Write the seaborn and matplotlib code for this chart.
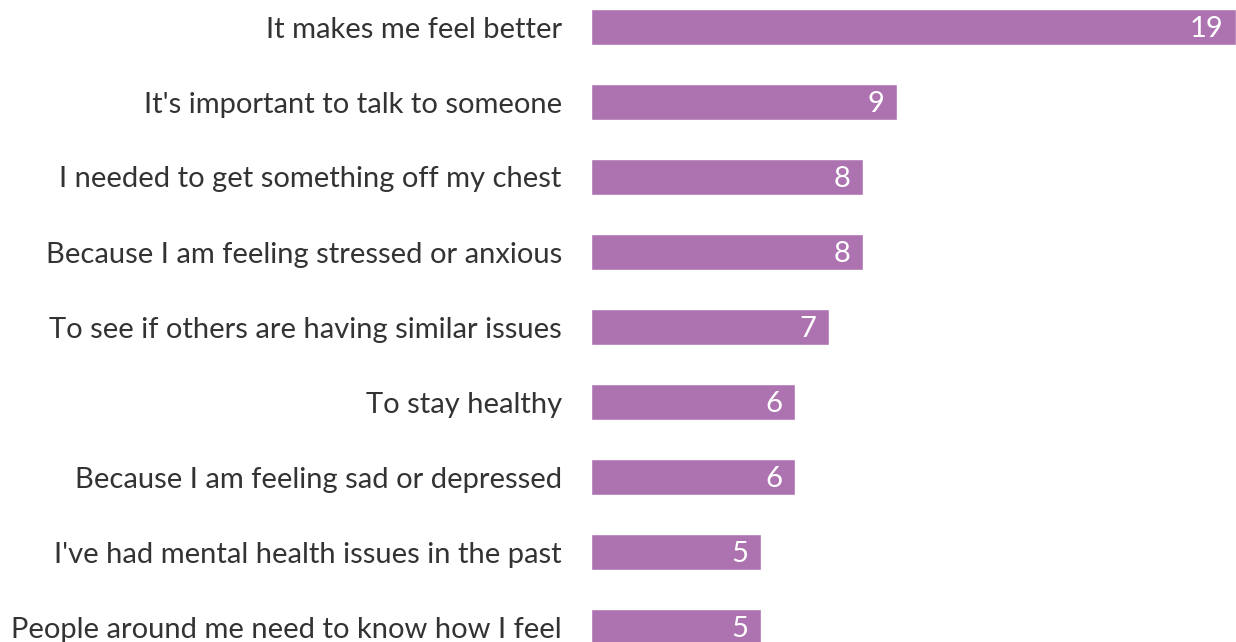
import matplotlib
matplotlib.use("Agg")
import matplotlib.pyplot as plt
import seaborn as sns
import pandas as pd

categories = [
    "It makes me feel better",
    "It's important to talk to someone",
    "I needed to get something off my chest",
    "Because I am feeling stressed or anxious",
    "To see if others are having similar issues",
    "To stay healthy",
    "Because I am feeling sad or depressed",
    "I've had mental health issues in the past",
    "People around me need to know how I feel",
]
values = [19, 9, 8, 8, 7, 6, 6, 5, 5]

BAR = "#ad73b1"
TEXT = "#333333"

sns.set_theme(style="white")
plt.rcParams["font.family"] = ["Lato", "DejaVu Sans"]

df = pd.DataFrame({"reason": categories, "count": values})

fig = plt.figure(figsize=(12.36, 6.42), dpi=100)
ax = fig.add_axes([591 / 1236, 0, 1 - 591 / 1236, 1])
sns.barplot(data=df, y="reason", x="count", orient="h", color=BAR,
            saturation=1, width=0.47, ax=ax)

ax.set_xlim(0, 19)
ax.set_ylim(8.2, -0.36)
for s in ax.spines.values():
    s.set_visible(False)
ax.set_xticks([])
ax.set_xlabel("")
ax.set_ylabel("")
ax.tick_params(axis="y", length=0, pad=21, labelsize=21, labelcolor=TEXT)

for i, v in enumerate(values):
    ax.annotate(str(v), xy=(v, i), xytext=(-9, -1.5), textcoords="offset points",
                ha="right", va="center", color="white", fontsize=21)

fig.savefig("out.png", dpi=100)
